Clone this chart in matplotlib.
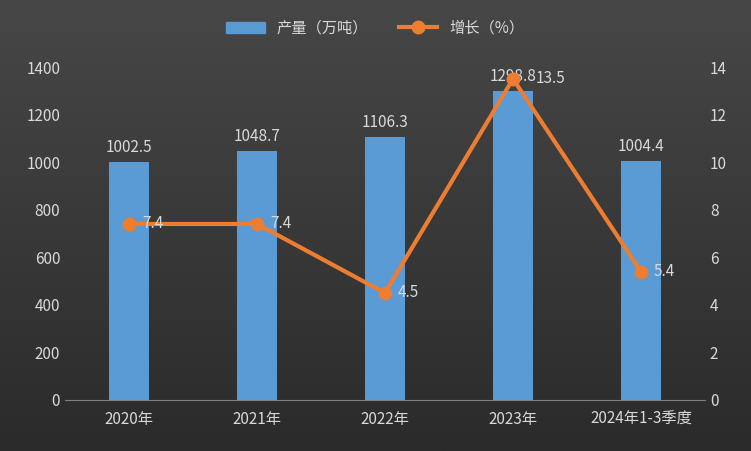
import matplotlib
matplotlib.use("Agg")
import matplotlib.pyplot as plt
import numpy as np
from matplotlib.patches import Patch
from matplotlib.lines import Line2D

plt.rcParams['font.family'] = ['Noto Sans CJK SC', 'DejaVu Sans']

categories = ["2020年", "2021年", "2022年", "2023年", "2024年1-3季度"]
output = [1002.5, 1048.7, 1106.3, 1298.8, 1004.4]
growth = [7.4, 7.4, 4.5, 13.5, 5.4]

fig = plt.figure(figsize=(7.51, 4.51), dpi=100)
bg = fig.add_axes([0, 0, 1, 1])
grad = np.linspace(0, 1, 256).reshape(-1, 1)
bg.imshow(grad, aspect='auto', cmap=matplotlib.colors.LinearSegmentedColormap.from_list('g', ['#474747', '#2b2b2b']), extent=[0, 1, 0, 1])
bg.axis('off')

ax = fig.add_axes([65/751, 51/451, 640/751, 333/451])
ax.patch.set_alpha(0)
x = np.arange(len(categories))
ax.bar(x, output, width=0.32, color='#5b9bd5', zorder=2)
for xi, v in zip(x, output):
    ax.text(xi, v + 25, f"{v}", ha='center', va='bottom', color='#d9d9d9', fontsize=11)
ax.set_ylim(0, 1400)
ax.set_yticks(range(0, 1401, 200))
ax.set_xlim(-0.5, len(categories) - 0.5)
ax.set_xticks(x)
ax.set_xticklabels(categories)
for s in ax.spines.values():
    s.set_visible(False)
ax.spines['bottom'].set_visible(True)
ax.spines['bottom'].set_color('#7f7f7f')
ax.tick_params(colors='#d9d9d9', labelsize=11, length=0)
ax.tick_params(axis='x', pad=8)

ax2 = ax.twinx()
ax2.plot(x, growth, color='#ed7d31', lw=3, marker='o', ms=9, zorder=3)
for xi, v in zip(x, growth):
    ax2.text(xi + 0.1 + (0.08 if v > 13 else 0), v, f"{v}", ha='left', va='center', color='#d9d9d9', fontsize=11)
ax2.set_ylim(0, 14)
ax2.set_yticks(range(0, 15, 2))
for s in ax2.spines.values():
    s.set_visible(False)
ax2.tick_params(colors='#d9d9d9', labelsize=11, length=0)

handles = [Patch(color='#5b9bd5', label='产量（万吨）'),
           Line2D([0], [0], color='#ed7d31', lw=3, marker='o', ms=9, label='增长（%）')]
fig.legend(handles=handles, loc='center', bbox_to_anchor=(0.5, 28/451 * -1 + 1), ncol=2,
           frameon=False, labelcolor='#d9d9d9', fontsize=11, handlelength=2.5, columnspacing=2)

fig.savefig('out.png', dpi=100)
